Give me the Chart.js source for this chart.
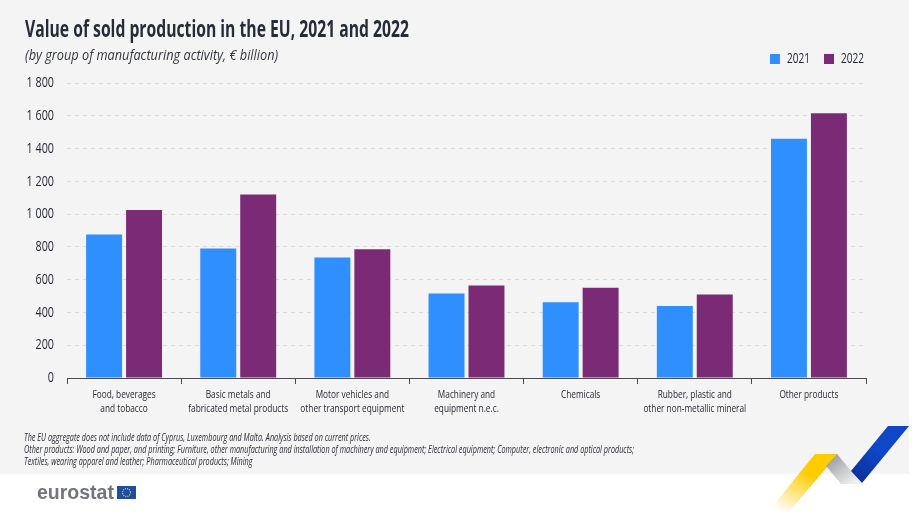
<!DOCTYPE html>
<html>
<head>
<meta charset="utf-8">
<script src="https://cdn.jsdelivr.net/npm/chart.js@4"></script>
<style>
html, body { margin: 0; padding: 0; background: #fff; overflow: hidden; }
#wrap { position: relative; width: 913px; height: 513px; font-family: "Open Sans", sans-serif; }
#panel { position: absolute; left: 0; top: 0; width: 909px; height: 474px; background: #f4f4f4; }
canvas { position: absolute; left: 0; top: 0; }
.txt { position: absolute; white-space: nowrap; transform-origin: 0 0; }
#title { left: 25px; top: 12px; font-size: 23px; font-weight: bold; color: #262b38; transform: scaleX(0.683); }
#sub { left: 25px; top: 45px; font-size: 14px; font-style: italic; color: #33363f; transform: scaleX(0.91); }
#notes { left: 24px; top: 431px; font-size: 10px; line-height: 12px; font-style: italic; color: #2a2d35; transform: scaleX(0.727); }
#logo { left: 37px; top: 481px; font-family: "Liberation Sans", sans-serif; font-weight: bold; font-size: 19.5px; color: #72747f; }
svg { position: absolute; left: 0; top: 0; }
</style>
</head>
<body>
<div id="wrap">
  <div id="panel"></div>
  <svg width="913" height="513">
    <defs>
      <linearGradient id="yel" x1="0.2" y1="1" x2="0.62" y2="0.35">
        <stop offset="0" stop-color="#ffcc00" stop-opacity="0"/>
        <stop offset="1" stop-color="#ffcc00"/>
      </linearGradient>
      <linearGradient id="gry" x1="0.1" y1="0.1" x2="0.8" y2="0.9">
        <stop offset="0" stop-color="#9a9ba0"/>
        <stop offset="1" stop-color="#eeeeee"/>
      </linearGradient>
      <linearGradient id="blu" x1="0.1" y1="1" x2="0.5" y2="0.45">
        <stop offset="0" stop-color="#0b2f96"/>
        <stop offset="1" stop-color="#0f47c8"/>
      </linearGradient>
    </defs>
    <polygon points="815,454 838,454 789,512 768,512" fill="url(#yel)"/>
    <polygon points="837,454 862,484 841,484 826,466" fill="url(#gry)"/>
    <polygon points="888,426 909,426 862,483 851,471" fill="url(#blu)"/>
    <rect x="117" y="486" width="19" height="13" fill="#1f4ea1"/>
    <circle cx="126.5" cy="492.5" r="4" fill="none" stroke="#f2cc2e" stroke-width="1.3" stroke-dasharray="1 1.1"/>
  </svg>
  <canvas id="chart" width="913" height="513"></canvas>
  <div class="txt" id="title">Value of sold production in the EU, 2021 and 2022</div>
  <div class="txt" id="sub">(by group of manufacturing activity, € billion)</div>
  <div class="txt" id="notes">The EU aggregate does not include data of Cyprus, Luxembourg and Malta. Analysis based on current prices.<br>Other products: Wood and paper, and printing; Furniture, other manufacturing and installation of machinery and equipment; Electrical equipment; Computer, electronic and optical products;<br>Textiles, wearing apparel and leather; Pharmaceutical products; Mining</div>
  <div class="txt" id="logo">eurostat</div>
</div>
<script>
const categories = [
	['Food, beverages', 'and tobacco'],
	['Basic metals and', 'fabricated metal products'],
	['Motor vehicles and', 'other transport equipment'],
	['Machinery and', 'equipment n.e.c.'],
	'Chemicals',
	['Rubber, plastic and', 'other non-metallic mineral'],
	'Other products',
];
const values2021 = [875, 790, 735, 515, 462, 440, 1460];
const values2022 = [1025, 1120, 785, 565, 550, 510, 1615];

const fontFamily = '"Open Sans", sans-serif';
const textColor = '#262932';
const narrow = 0.72;

// no condensed font is installed, so squeeze canvas text around its anchor
const canvas = document.getElementById('chart');
const ctx = canvas.getContext('2d');
const fillText = ctx.fillText;
ctx.fillText = function (text, x, y) {
	ctx.save();
	ctx.translate(x, y);
	ctx.scale(narrow, 1);
	fillText.call(ctx, text, 0, 0);
	ctx.restore();
};

// legend sits higher than the layout would put it
const moveLegend = {
	id: 'moveLegend',
	afterUpdate(chart) {
		chart.legend.top -= 7;
		chart.legend.right += 12;
	},
};

new Chart(canvas, {
	type: 'bar',
	data: {
		labels: categories,
		datasets: [
			{label: '2021', data: values2021, backgroundColor: '#2f8fff', categoryPercentage: 0.7, barPercentage: 0.9},
			{label: '2022', data: values2022, backgroundColor: '#7b2a76', categoryPercentage: 0.7, barPercentage: 0.9},
		],
	},
	plugins: [moveLegend],
	options: {
		responsive: false,
		animation: false,
		layout: {padding: {left: 20, right: 47, top: 54, bottom: 0}},
		plugins: {
			tooltip: {enabled: false},
			legend: {
				position: 'top',
				align: 'end',
				labels: {
					boxWidth: 10,
					boxHeight: 10,
					padding: 5,
					color: textColor,
					font: {family: fontFamily, size: 14},
				},
			},
		},
		scales: {
			x: {
				afterFit: scale => { scale.height = 135; },
				grid: {drawOnChartArea: false, drawTicks: true, tickLength: 6, color: '#4a4a50'},
				border: {color: '#4a4a50', width: 1},
				ticks: {
					color: textColor,
					padding: 4,
					maxRotation: 0,
					autoSkip: false,
					font: {family: fontFamily, size: 11.5, lineHeight: 1.22},
				},
			},
			y: {
				min: 0,
				max: 1800,
				afterFit: scale => { scale.width = 47; },
				grid: {color: '#dcdcdc', drawTicks: false},
				border: {display: false, dash: [4, 4]},
				ticks: {
					stepSize: 200,
					padding: 13,
					color: textColor,
					font: {family: fontFamily, size: 15},
					callback: v => String(v).replace(/\B(?=(\d{3})+$)/g, ' '),
				},
			},
		},
	},
});
</script>
</body>
</html>
